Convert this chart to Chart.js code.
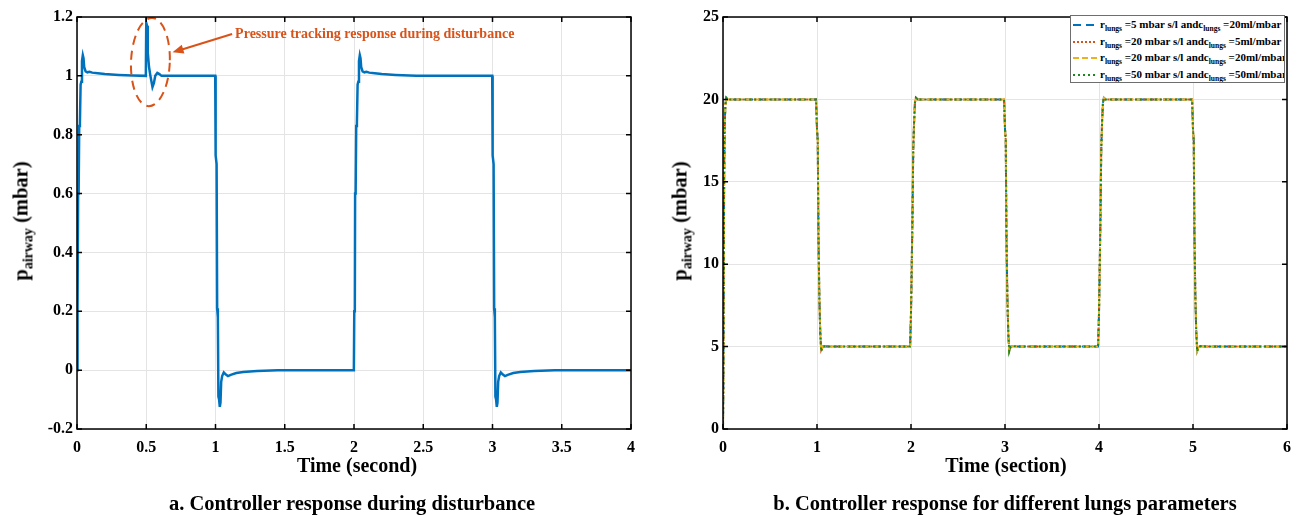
<!DOCTYPE html>
<html>
<head>
<meta charset="utf-8">
<script src="https://cdn.jsdelivr.net/npm/chart.js@4.4.1/dist/chart.umd.min.js"></script>
<style>
  body { margin: 0; width: 1306px; height: 516px; position: relative; overflow: hidden; background: #fff;
         font-family: "Liberation Serif", "Times New Roman", serif; font-weight: bold; color: #000; }
  canvas { position: absolute; top: 0; }
  #chartA { left: 0; }
  #chartB { left: 650px; }
  .ytitle { position: absolute; font-size: 20.5px; white-space: nowrap; transform: translate(-50%, -50%) rotate(-90deg); }
  .ytitle sub { font-size: 14px; }
  .xtitle { position: absolute; top: 454px; font-size: 20px; white-space: nowrap; transform: translateX(-50%); }
  .caption { position: absolute; top: 492px; font-size: 20.5px; white-space: nowrap; transform: translateX(-50%); }
  #legendB { position: absolute; left: 1070px; top: 15px; width: 215px; height: 68px; border: 1px solid #6e6e6e;
             background: #fff; padding-top: 1px; box-sizing: border-box; overflow: hidden; }
  #legendB .row { height: 16.5px; line-height: 14px; font-size: 11px; white-space: nowrap; padding-left: 2px; }
  #legendB svg { vertical-align: middle; margin-right: 3px; }
  #legendB sub { font-size: 7.5px; }
</style>
</head>
<body>
<canvas id="chartA" width="650" height="516"></canvas>
<canvas id="chartB" width="656" height="516"></canvas>

<div class="ytitle" style="left:23px; top:221px;">p<sub>airway</sub> (mbar)</div>
<div class="ytitle" style="left:682px; top:221px;">p<sub>airway</sub> (mbar)</div>
<div class="xtitle" style="left:357px;">Time (second)</div>
<div class="xtitle" style="left:1006px;">Time (section)</div>
<div class="caption" style="left:352px;">a. Controller response during disturbance</div>
<div class="caption" style="left:1005px;">b. Controller response for different lungs parameters</div>
<div id="legendB"></div>

<script>
// ---- (a) airway pressure with a disturbance at t = 0.5 s ----
const timeA = [
  0, 0.002, 0.006, 0.008, 0.012, 0.016, 0.021, 0.026, 0.031, 0.036, 0.042, 0.047, 0.052, 0.062, 0.075, 0.09,
  0.11, 0.15, 0.2, 0.3, 0.4, 0.497, 0.5, 0.506, 0.511, 0.52, 0.53, 0.545, 0.555, 0.565, 0.58, 0.595, 0.61,
  0.998, 1.001, 1.008, 1.012, 1.017, 1.021, 1.026, 1.031, 1.036, 1.041, 1.048, 1.06, 1.075, 1.09, 1.11,
  1.15, 1.2, 1.3, 1.45, 1.999,
  2.002, 2.006, 2.008, 2.012, 2.016, 2.021, 2.026, 2.031, 2.036, 2.042, 2.047, 2.052, 2.062, 2.075, 2.09,
  2.11, 2.15, 2.2, 2.3, 2.45, 2.998,
  3.001, 3.008, 3.012, 3.017, 3.021, 3.026, 3.031, 3.036, 3.041, 3.048, 3.06, 3.075, 3.09, 3.11,
  3.15, 3.2, 3.3, 3.45, 4.0
];
const pressureA = [
  0, 0.2, 0.21, 0.6, 0.61, 0.83, 0.84, 0.97, 0.98, 1.05, 1.07, 1.06, 1.03, 1.015, 1.012, 1.014,
  1.011, 1.009, 1.006, 1.003, 1.001, 1.0, 1.18, 1.17, 1.08, 1.03, 1.0, 0.962, 0.975, 1.0, 1.01, 1.006, 1.0,
  1.0, 0.73, 0.7, 0.21, 0.18, -0.09, -0.1, -0.125, -0.11, -0.04, -0.02, -0.008, -0.015, -0.02, -0.016,
  -0.01, -0.006, -0.003, 0, 0,
  0.2, 0.21, 0.6, 0.61, 0.83, 0.84, 0.97, 0.98, 1.05, 1.07, 1.06, 1.03, 1.015, 1.012, 1.014,
  1.011, 1.009, 1.006, 1.003, 1.0, 1.0,
  0.73, 0.7, 0.21, 0.18, -0.09, -0.1, -0.125, -0.11, -0.04, -0.02, -0.008, -0.015, -0.02, -0.016,
  -0.01, -0.006, -0.003, 0, 0
];
const xTicksA = [0, 0.5, 1, 1.5, 2, 2.5, 3, 3.5, 4];
const yTicksA = [-0.2, 0, 0.2, 0.4, 0.6, 0.8, 1, 1.2];

// callout around the disturbance (data coordinates)
const noteCenter = [0.53, 1.047];
const noteRadius = [0.14, 0.15];
const noteArrowFrom = [1.12, 1.142];
const noteArrowTo = [0.69, 1.08];
const noteText = 'Pressure tracking response during disturbance';

// ---- (b) airway pressure for four lung settings ----
const timeB = [
  0, 0.004, 0.008, 0.012, 0.018, 0.026, 0.035, 0.05, 0.99,
  1.0, 1.008, 1.015, 1.025, 1.035, 1.045, 1.06, 1.08, 1.2, 1.99,
  2.0, 2.008, 2.016, 2.024, 2.032, 2.042, 2.052, 2.07, 2.99,
  3.0, 3.008, 3.015, 3.025, 3.035, 3.045, 3.06, 3.08, 3.2, 3.99,
  4.0, 4.008, 4.016, 4.024, 4.032, 4.042, 4.052, 4.07, 4.99,
  5.0, 5.008, 5.015, 5.025, 5.035, 5.045, 5.06, 5.08, 5.2, 6.0
];
const r5c20 = [
  0, 3, 9, 15, 18.5, 19.7, 20.1, 20, 20,
  18.2, 17.5, 12, 8, 5.8, 4.75, 5, 5.02, 5, 5,
  7, 10, 13, 17, 18.5, 19.8, 20.1, 20, 20,
  18.2, 17.5, 12, 8, 5.8, 4.75, 5, 5.02, 5, 5,
  7, 10, 13, 17, 18.5, 19.8, 20.1, 20, 20,
  18.2, 17.5, 12, 8, 5.8, 4.75, 5, 5.02, 5, 5
];
const r20c5 = [
  0, 3, 9, 15, 18.5, 19.7, 20.1, 20, 20,
  18.2, 17.5, 12, 8, 5.8, 4.8, 5, 5.02, 5, 5,
  7, 10, 13, 17, 18.5, 19.8, 20.1, 20, 20,
  18.2, 17.5, 12, 8, 5.8, 4.8, 5, 5.02, 5, 5,
  7, 10, 13, 17, 18.5, 19.8, 20.1, 20, 20,
  18.2, 17.5, 12, 8, 5.8, 4.8, 5, 5.02, 5, 5
];
const r20c20 = [
  0, 3, 9, 15, 18.5, 19.7, 20.1, 20, 20,
  18.2, 17.5, 12, 8, 5.8, 4.75, 5, 5.02, 5, 5,
  7, 10, 13, 17, 18.5, 19.8, 20.1, 20, 20,
  18.2, 17.5, 12, 8, 5.8, 4.75, 5, 5.02, 5, 5,
  7, 10, 13, 17, 18.5, 19.8, 20.1, 20, 20,
  18.2, 17.5, 12, 8, 5.8, 4.75, 5, 5.02, 5, 5
];
const r50c50 = [
  0, 3, 9, 15, 18.5, 19.7, 20.1, 20, 20,
  18.2, 17.5, 12, 8, 5.8, 4.7, 5, 5.02, 5, 5,
  7, 10, 13, 17, 18.5, 19.8, 20.1, 20, 20,
  18.2, 17.5, 12, 8, 5.8, 4.7, 5, 5.02, 5, 5,
  7, 10, 13, 17, 18.5, 19.8, 20.1, 20, 20,
  18.2, 17.5, 12, 8, 5.8, 4.7, 5, 5.02, 5, 5
];
const rLungs = ['5', '20', '20', '50'];
const cLungs = ['20', '5', '20', '50'];
const seriesColors = ['#0072BD', '#D95319', '#EDB120', '#1a8a1a'];
const seriesDash = [[8, 5], [2, 2], [6, 3], [2, 3]];
const xTicksB = [0, 1, 2, 3, 4, 5, 6];
const yTicksB = [0, 5, 10, 15, 20, 25];

const tickFont = { family: '"Liberation Serif", "Times New Roman", serif', weight: 'bold', size: 16 };

// MATLAB-like box with inward tick marks
const framePlugin = {
  id: 'frame',
  afterDraw(chart) {
    const { ctx, chartArea: a, scales: { x, y } } = chart;
    ctx.save();
    ctx.strokeStyle = '#000';
    ctx.lineWidth = 1.5;
    ctx.strokeRect(a.left, a.top, a.right - a.left, a.bottom - a.top);
    ctx.beginPath();
    x.ticks.forEach(t => {
      const px = x.getPixelForValue(t.value);
      ctx.moveTo(px, a.bottom); ctx.lineTo(px, a.bottom - 5);
      ctx.moveTo(px, a.top); ctx.lineTo(px, a.top + 5);
    });
    y.ticks.forEach(t => {
      const py = y.getPixelForValue(t.value);
      ctx.moveTo(a.left, py); ctx.lineTo(a.left + 5, py);
      ctx.moveTo(a.right, py); ctx.lineTo(a.right - 5, py);
    });
    ctx.stroke();
    ctx.restore();
  }
};

// dashed ellipse + arrow + label for the disturbance
const notePlugin = {
  id: 'note',
  afterDatasetsDraw(chart) {
    const { ctx, scales: { x, y } } = chart;
    const cx = x.getPixelForValue(noteCenter[0]), cy = y.getPixelForValue(noteCenter[1]);
    const rx = Math.abs(x.getPixelForValue(noteCenter[0] + noteRadius[0]) - cx);
    const ry = Math.abs(y.getPixelForValue(noteCenter[1] + noteRadius[1]) - cy);
    const fx = x.getPixelForValue(noteArrowFrom[0]), fy = y.getPixelForValue(noteArrowFrom[1]);
    const tx = x.getPixelForValue(noteArrowTo[0]), ty = y.getPixelForValue(noteArrowTo[1]);
    ctx.save();
    ctx.strokeStyle = '#D95319';
    ctx.fillStyle = '#D95319';
    ctx.lineWidth = 2;
    ctx.setLineDash([9, 6]);
    ctx.beginPath();
    ctx.ellipse(cx, cy, rx, ry, 0.04, 0, Math.PI * 2);
    ctx.stroke();
    ctx.setLineDash([]);
    const ang = Math.atan2(ty - fy, tx - fx);
    ctx.beginPath();
    ctx.moveTo(fx, fy);
    ctx.lineTo(tx - 9 * Math.cos(ang), ty - 9 * Math.sin(ang));
    ctx.stroke();
    ctx.beginPath();
    ctx.moveTo(tx, ty);
    ctx.lineTo(tx - 11 * Math.cos(ang) + 4.5 * Math.sin(ang), ty - 11 * Math.sin(ang) - 4.5 * Math.cos(ang));
    ctx.lineTo(tx - 11 * Math.cos(ang) - 4.5 * Math.sin(ang), ty - 11 * Math.sin(ang) + 4.5 * Math.cos(ang));
    ctx.closePath();
    ctx.fill();
    ctx.font = 'bold 14px "Liberation Serif", "Times New Roman", serif';
    ctx.textBaseline = 'middle';
    ctx.fillText(noteText, fx + 3, fy);
    ctx.restore();
  }
};

function fmt(v) {
  return String(Number(v.toFixed(2)));
}

function axes(xTicks, yTicks, yWidth) {
  return {
    x: {
      type: 'linear',
      min: xTicks[0], max: xTicks[xTicks.length - 1],
      afterBuildTicks: s => { s.ticks = xTicks.map(v => ({ value: v })); },
      afterFit: s => { s.height = 87; },
      grid: { color: '#e4e4e4', drawTicks: false },
      border: { display: false },
      ticks: { font: tickFont, color: '#000', padding: 9, maxRotation: 0, callback: v => fmt(v) }
    },
    y: {
      type: 'linear',
      min: yTicks[0], max: yTicks[yTicks.length - 1],
      afterBuildTicks: s => { s.ticks = yTicks.map(v => ({ value: v })); },
      afterFit: s => { s.width = yWidth; },
      grid: { color: '#e4e4e4', drawTicks: false },
      border: { display: false },
      ticks: { font: tickFont, color: '#000', padding: 4, callback: v => fmt(v) }
    }
  };
}

new Chart(document.getElementById('chartA').getContext('2d'), {
  type: 'line',
  data: {
    datasets: [{
      label: 'p airway',
      data: timeA.map((t, i) => ({ x: t, y: pressureA[i] })),
      borderColor: '#0072BD',
      borderWidth: 2.5,
      pointRadius: 0,
      tension: 0
    }]
  },
  options: {
    responsive: false,
    animation: false,
    layout: { padding: { top: 17, right: 19, left: 0, bottom: 0 } },
    plugins: { legend: { display: false }, tooltip: { enabled: false } },
    scales: axes(xTicksA, yTicksA, 77)
  },
  plugins: [notePlugin, framePlugin]
});

// later series are painted on top of earlier ones
const seriesB = [r5c20, r20c5, r20c20, r50c50];
const chartB = new Chart(document.getElementById('chartB').getContext('2d'), {
  type: 'line',
  data: {
    datasets: seriesB.map((vals, k) => ({
      label: `r lungs =${rLungs[k]} mbar s/l and c lungs =${cLungs[k]}ml/mbar`,
      data: timeB.map((t, i) => ({ x: t, y: vals[i] })),
      borderColor: seriesColors[k],
      borderDash: seriesDash[k],
      borderWidth: 2,
      pointRadius: 0,
      tension: 0,
      order: seriesB.length - 1 - k
    }))
  },
  options: {
    responsive: false,
    animation: false,
    layout: { padding: { top: 17, right: 19, left: 0, bottom: 0 } },
    plugins: { legend: { display: false }, tooltip: { enabled: false } },
    scales: axes(xTicksB, yTicksB, 73)
  },
  plugins: [framePlugin]
});

// legend with subscripted symbols
const legendBox = document.getElementById('legendB');
chartB.data.datasets.forEach((ds, k) => {
  const row = document.createElement('div');
  row.className = 'row';
  row.innerHTML =
    `<svg width="24" height="6"><line x1="0" y1="3" x2="24" y2="3" stroke="${seriesColors[k]}" stroke-width="2" stroke-dasharray="${seriesDash[k].join(' ')}"/></svg>` +
    `r<sub>lungs</sub> =${rLungs[k]} mbar s/l andc<sub>lungs</sub> =${cLungs[k]}ml/mbar`;
  legendBox.appendChild(row);
});
</script>
</body>
</html>
